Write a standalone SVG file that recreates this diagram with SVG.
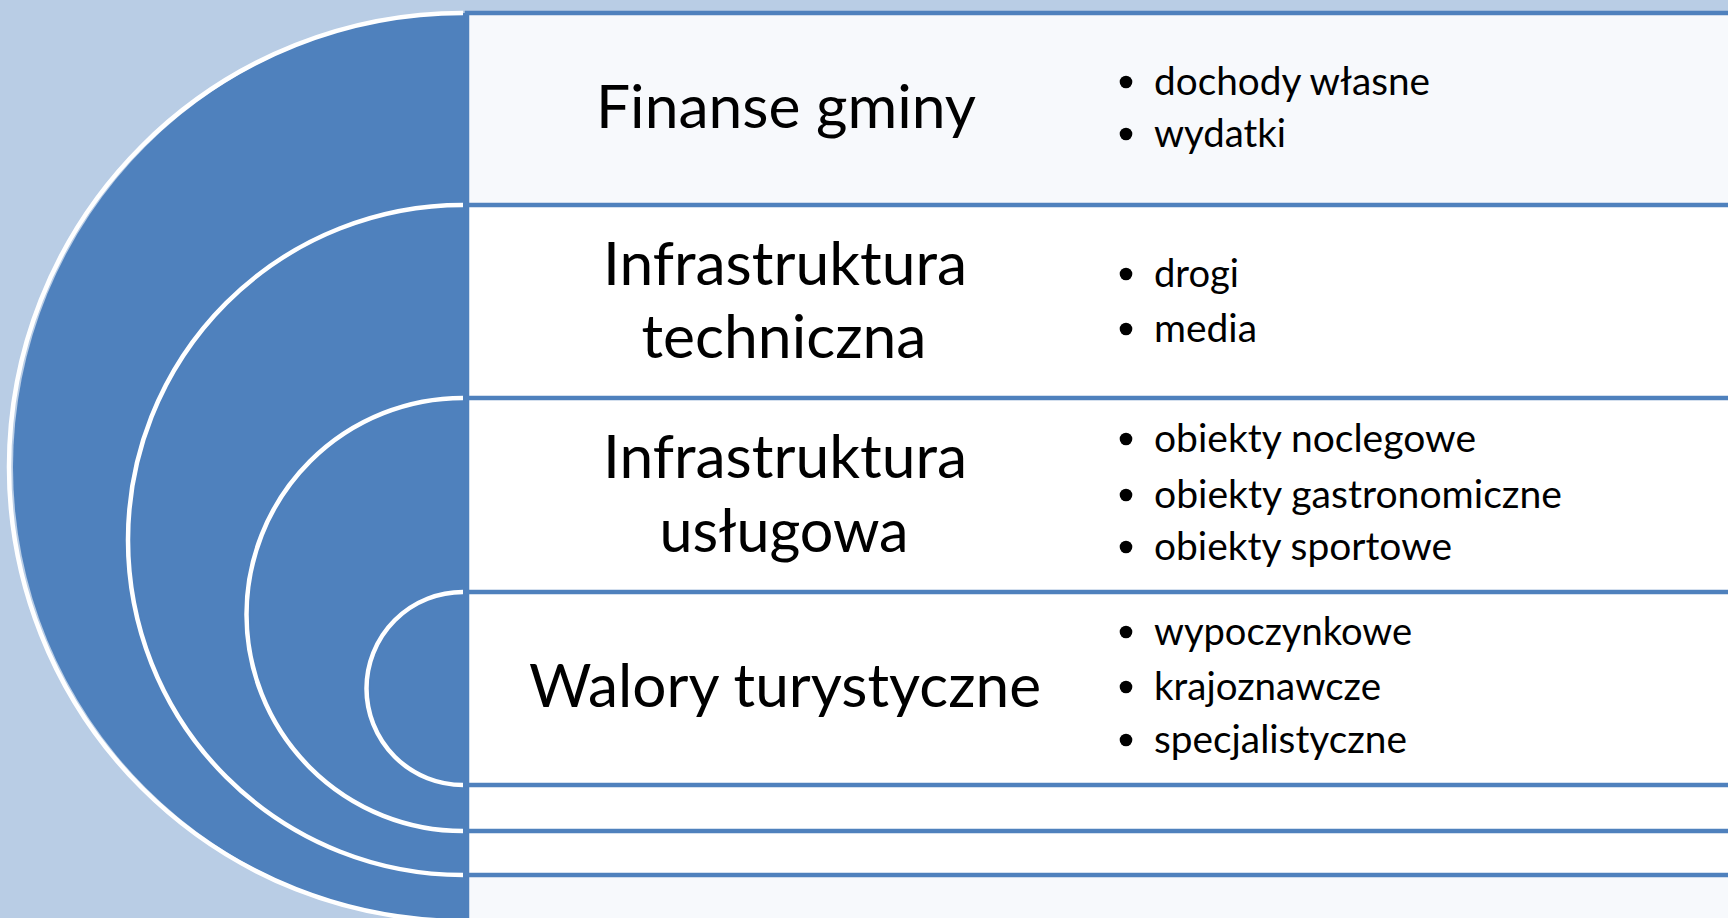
<svg xmlns="http://www.w3.org/2000/svg" width="1728" height="918" viewBox="0 0 1728 918">
<style>
.disc{fill:#4F81BD;stroke:none}
.arc{fill:none;stroke:#FFFFFF;stroke-width:4.5}
.box{stroke:#4F81BD;stroke-width:4.5}
.title{font-family:Lato,"Liberation Sans",sans-serif;font-size:60px;fill:#000000;text-anchor:middle}
.item{font-family:Lato,"Liberation Sans",sans-serif;font-size:39px;fill:#000000}
.dot{fill:#000000}
</style>
<rect x="0" y="0" width="1728" height="918" fill="#B9CDE5"/>

<g id="node-finanse">
  <path class="disc" d="M467,13 A454,454 0 0 0 467,921 Z"/>
  <path class="arc" d="M463,13 A454,454 0 0 0 463,921"/>
  <rect class="box" x="467" y="13" width="1300" height="908" fill="#F7F9FC"/>
  <text class="title" x="786" y="128" textLength="380" lengthAdjust="spacingAndGlyphs">Finanse gminy</text>
  <circle class="dot" cx="1126" cy="82" r="6.3"/>
  <text class="item" x="1154" y="95" textLength="276" lengthAdjust="spacingAndGlyphs">dochody własne</text>
  <circle class="dot" cx="1126" cy="134" r="6.3"/>
  <text class="item" x="1154" y="147" textLength="132" lengthAdjust="spacingAndGlyphs">wydatki</text>
</g>

<g id="node-infra-techniczna">
  <path class="disc" d="M467,205 A335,335 0 0 0 467,875 Z"/>
  <path class="arc" d="M463,205 A335,335 0 0 0 463,875"/>
  <rect class="box" x="467" y="205" width="1300" height="670" fill="#FFFFFF"/>
  <text class="title" x="785" y="285" textLength="364" lengthAdjust="spacingAndGlyphs">Infrastruktura</text>
  <text class="title" x="784" y="358" textLength="285" lengthAdjust="spacingAndGlyphs">techniczna</text>
  <circle class="dot" cx="1126" cy="274" r="6.3"/>
  <text class="item" x="1154" y="287" textLength="85" lengthAdjust="spacingAndGlyphs">drogi</text>
  <circle class="dot" cx="1126" cy="329" r="6.3"/>
  <text class="item" x="1154" y="342" textLength="103" lengthAdjust="spacingAndGlyphs">media</text>
</g>

<g id="node-infra-uslugowa">
  <path class="disc" d="M467,398 A216.5,216.5 0 0 0 467,831 Z"/>
  <path class="arc" d="M463,398 A216.5,216.5 0 0 0 463,831"/>
  <rect class="box" x="467" y="398" width="1300" height="433" fill="#FFFFFF"/>
  <text class="title" x="785" y="478" textLength="364" lengthAdjust="spacingAndGlyphs">Infrastruktura</text>
  <text class="title" x="784" y="552" textLength="249" lengthAdjust="spacingAndGlyphs">usługowa</text>
  <circle class="dot" cx="1126" cy="439" r="6.3"/>
  <text class="item" x="1154" y="452" textLength="322" lengthAdjust="spacingAndGlyphs">obiekty noclegowe</text>
  <circle class="dot" cx="1126" cy="495" r="6.3"/>
  <text class="item" x="1154" y="508" textLength="408" lengthAdjust="spacingAndGlyphs">obiekty gastronomiczne</text>
  <circle class="dot" cx="1126" cy="547" r="6.3"/>
  <text class="item" x="1154" y="560" textLength="298" lengthAdjust="spacingAndGlyphs">obiekty sportowe</text>
</g>

<g id="node-walory">
  <path class="disc" d="M467,592 A96.5,96.5 0 0 0 467,785 Z"/>
  <path class="arc" d="M463,592 A96.5,96.5 0 0 0 463,785"/>
  <rect class="box" x="467" y="592" width="1300" height="193" fill="#FFFFFF"/>
  <text class="title" x="785" y="707" textLength="512" lengthAdjust="spacingAndGlyphs">Walory turystyczne</text>
  <circle class="dot" cx="1126" cy="632" r="6.3"/>
  <text class="item" x="1154" y="645" textLength="258" lengthAdjust="spacingAndGlyphs">wypoczynkowe</text>
  <circle class="dot" cx="1126" cy="687" r="6.3"/>
  <text class="item" x="1154" y="700" textLength="227" lengthAdjust="spacingAndGlyphs">krajoznawcze</text>
  <circle class="dot" cx="1126" cy="740" r="6.3"/>
  <text class="item" x="1154" y="753" textLength="253" lengthAdjust="spacingAndGlyphs">specjalistyczne</text>
</g>
</svg>
